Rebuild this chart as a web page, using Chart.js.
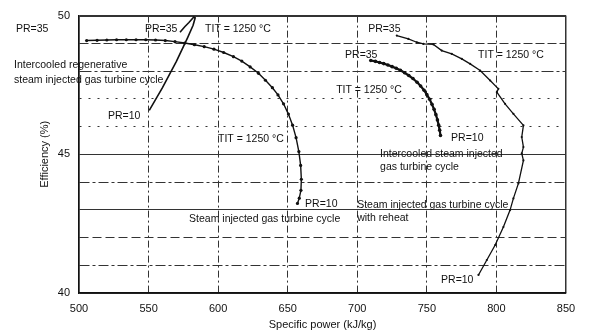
<!DOCTYPE html>
<html>
<head>
<meta charset="utf-8">
<script src="https://cdn.jsdelivr.net/npm/chart.js@4/dist/chart.umd.min.js"></script>
<style>
  html, body { margin: 0; padding: 0; background: #fff; }
  #wrap { width: 590px; height: 333px; }
</style>
</head>
<body>
<div id="wrap"><canvas id="grafico"></canvas></div>
<script>
// Intercooled regenerative steam injected gas turbine cycle (PR=10 -> PR=35)
const regenX = [550.5, 560, 570, 578, 582, 583.5, 582.5, 579, 576, 572.6];
const regenY = [46.58, 47.4, 48.35, 49.2, 49.65, 49.92, 49.95, 49.75, 49.6, 49.4];

// Steam injected gas turbine cycle (PR=35 -> PR=10)
const stigX = [505.5, 513, 520, 527, 534, 541, 548, 555, 562, 569, 576, 583, 590, 597, 604, 611,
  617, 623, 629, 634, 639, 643, 647, 650.5, 653.5, 656, 658, 659.3, 659.8, 659.5, 658.3, 657];
const stigY = [49.1, 49.11, 49.12, 49.13, 49.13, 49.13, 49.13, 49.12, 49.1, 49.06, 49.01, 48.95,
  48.88, 48.79, 48.67, 48.52, 48.36, 48.15, 47.92, 47.67, 47.4, 47.14, 46.82, 46.45, 46.05,
  45.6, 45.1, 44.6, 44.1, 43.7, 43.42, 43.23];

// Intercooled steam injected gas turbine cycle (PR=35 -> PR=10)
const interX = [709.7, 713, 716, 719, 722, 725, 728, 731, 734, 737, 740, 743, 745.5, 748, 750,
  752, 753.7, 755.2, 756.5, 757.6, 758.5, 759.2, 759.8];
const interY = [48.38, 48.35, 48.31, 48.27, 48.22, 48.16, 48.1, 48.03, 47.94, 47.84, 47.73,
  47.6, 47.46, 47.31, 47.15, 46.98, 46.8, 46.62, 46.43, 46.24, 46.05, 45.87, 45.68];

// Steam injected gas turbine cycle with reheat (PR=35 -> PR=10)
const reheatX = [728.4, 736.7, 742.7, 747.5, 754.7, 760.7, 767.9, 775.1, 781.1, 788.3, 795.5,
  801.4, 800.3, 806.2, 812.2, 819.4, 818.2, 819.4, 818.2, 819.4, 815.8, 812.2, 809.8, 805,
  799.1, 793.1, 787.1];
const reheatY = [49.28, 49.16, 49.04, 48.98, 48.96, 48.74, 48.62, 48.44, 48.26, 48.02, 47.66,
  47.36, 47.24, 46.82, 46.46, 46.04, 45.62, 45.26, 45.03, 44.78, 43.95, 43.41, 42.99, 42.38,
  41.73, 41.19, 40.65];

// Textos do gráfico (posição em coordenadas de dados)
const textos = ["PR=35", "PR=35", "TIT = 1250 °C", "Intercooled regenerative",
  "steam injected gas turbine cycle", "PR=10", "TIT = 1250 °C", "PR=10",
  "Steam injected gas turbine cycle", "PR=35", "TIT = 1250 °C", "PR=35", "TIT = 1250 °C",
  "PR=10", "Intercooled steam injected", "gas turbine cycle",
  "Steam injected gas turbine cycle", "with reheat", "PR=10"];
const textosX = [454.7, 547.4, 590.6, 453.3, 453.3, 520.8, 599.9, 662.5, 579.1, 707.8, 786.8,
  691.2, 684.8, 767.4, 716.4, 716.4, 699.9, 699.9, 760.2];
const textosY = [49.5, 49.5, 49.5, 48.2, 47.66, 46.37, 45.54, 43.2, 42.66, 49.53, 48.56, 48.56,
  47.3, 45.58, 45.0, 44.53, 43.17, 42.7, 40.47];

const FONTE = "'Liberation Sans', Arial, sans-serif";

function pontos(xs, ys) {
  return xs.map((x, i) => ({ x: x, y: ys[i] }));
}

function serie(xs, ys, largura, raio) {
  return {
    data: pontos(xs, ys),
    showLine: true,
    borderColor: "#111",
    backgroundColor: "#111",
    borderWidth: largura,
    pointRadius: raio,
    pointBorderWidth: 0,
    tension: 0,
  };
}

// Estilo de traço das linhas horizontais da grade
const tracosY = {
  41: [10, 3, 3, 3],
  42: [9, 4],
  43: [],
  44: [10, 3, 3, 3],
  45: [],
  46: [2, 7],
  47: [2, 7],
  48: [12, 3, 3, 3],
  49: [9, 3],
};

// Plugin para escrever os textos sobre o gráfico
const pluginTextos = {
  id: "textos",
  afterDatasetsDraw(chart) {
    const ctx = chart.ctx;
    const sx = chart.scales.x;
    const sy = chart.scales.y;
    ctx.save();
    ctx.font = "10.5px " + FONTE;
    ctx.fillStyle = "#111";
    ctx.textAlign = "left";
    ctx.textBaseline = "middle";
    textos.forEach((t, i) => {
      ctx.fillText(t, sx.getPixelForValue(textosX[i]), sy.getPixelForValue(textosY[i]));
    });
    ctx.restore();
  },
};

const ctx = document.getElementById("grafico").getContext("2d");
new Chart(ctx, {
  type: "scatter",
  data: {
    datasets: [
      serie(regenX, regenY, 1.6, 0),
      serie(stigX, stigY, 1.4, 1.6),
      serie(interX, interY, 2.2, 1.8),
      serie(reheatX, reheatY, 1.3, 1.1),
    ],
  },
  options: {
    responsive: true,
    maintainAspectRatio: false,
    animation: false,
    layout: { padding: { left: 38, right: 24, top: 15, bottom: 0 } },
    plugins: {
      legend: { display: false },
      tooltip: { enabled: false },
    },
    scales: {
      x: {
        type: "linear",
        min: 500,
        max: 850,
        afterFit: (s) => { s.height = 40; },
        ticks: {
          stepSize: 50,
          padding: 9,
          color: "#111",
          font: { family: FONTE, size: 11 },
        },
        grid: {
          color: "#333",
          lineWidth: (c) => (c.tick && (c.tick.value === 500 || c.tick.value === 850) ? 1.5 : 1),
          drawTicks: false,
        },
        border: {
          display: true,
          color: "#111",
          width: 1.5,
          dash: (c) => (c.tick && (c.tick.value === 500 || c.tick.value === 850) ? [] : [7, 3, 2, 3]),
        },
        title: {
          display: true,
          text: "Specific power (kJ/kg)",
          color: "#111",
          font: { family: FONTE, size: 11 },
          padding: { top: 0, bottom: 1 },
        },
      },
      y: {
        type: "linear",
        min: 40,
        max: 50,
        afterFit: (s) => { s.width = 41; },
        ticks: {
          stepSize: 1,
          padding: 9,
          color: "#111",
          font: { family: FONTE, size: 11 },
          callback: (v) => (v % 5 === 0 ? v : ""),
        },
        grid: {
          color: "#333",
          lineWidth: (c) => (c.tick && (c.tick.value === 40 || c.tick.value === 50) ? 2 : 1),
          drawTicks: false,
        },
        border: {
          display: true,
          color: "#111",
          width: 1.5,
          dash: (c) => (c.tick && tracosY[c.tick.value] ? tracosY[c.tick.value] : []),
        },
        title: {
          display: true,
          text: "Efficiency (%)",
          color: "#111",
          font: { family: FONTE, size: 11 },
          padding: { top: 0, bottom: 0 },
        },
      },
    },
  },
  plugins: [pluginTextos],
});
</script>
</body>
</html>
